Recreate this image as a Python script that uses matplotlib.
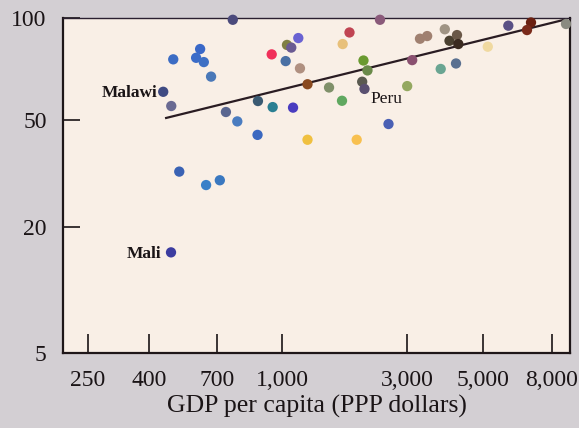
import numpy as np
import matplotlib
matplotlib.use('Agg')
from matplotlib import pyplot as plt

plt.rcParams['font.family'] = ['Liberation Serif', 'DejaVu Serif']

# GDP per capita (PPP dollars) and literacy (%)
gdp = [764, 488, 610, 590, 629, 668, 449, 480, 736, 783, 876, 874, 513,
       641, 712, 479, 944, 1030, 949, 1099, 1042, 1082, 1151, 1168, 2360,
       1805, 1700, 1248, 1508, 2041, 2114, 2018, 2059, 1690, 2997, 3101,
       2543, 1248, 1923, 3269, 3432, 3868, 3993, 4201, 4239, 3762, 4173,
       5176, 5953, 6948, 6761, 8819]
literacy = [99, 75.6, 81.1, 76.4, 74.2, 67.2, 60.6, 55.0, 52.8, 49.4, 56.9,
            44.0, 32.1, 28.6, 29.8, 15.1, 78.2, 74.7, 54.6, 54.4, 83.4, 81.9,
            87.4, 71.1, 99, 90.8, 83.9, 63.8, 62.4, 75.0, 70.1, 64.9, 61.8,
            57.0, 63.0, 75.2, 48.3, 42.2, 42.2, 87.0, 88.6, 92.8, 85.8, 89.2,
            83.9, 70.8, 73.5, 82.4, 95.1, 97.2, 92.3, 96.2]
dot_colors = ['#4b4a7c', '#3c6cc4', '#3a68c8', '#3c6cc8', '#3f70c4', '#4a78b8',
              '#3f4a82', '#6a6a92', '#5a6690', '#4a7cc0', '#3a5a72', '#3b68c0',
              '#3a62b4', '#3a80c8', '#3a78c0', '#3c3ca0', '#f0305a', '#4a70a4',
              '#2a7f92', '#4a3cc0', '#7f7f42', '#6a5a92', '#6a62d2', '#b09080',
              '#8a5a7a', '#c04452', '#e8c07a', '#8a4a20', '#80906a', '#6a9a30',
              '#6a8a4a', '#5a5a50', '#5a5070', '#60a860', '#94a860', '#8a5070',
              '#4a60b4', '#f0c040', '#f8c050', '#a08070', '#a08070', '#a09484',
              '#4a4030', '#6a5848', '#3a2a20', '#6aa592', '#5a7090', '#f0d9a0',
              '#5a5084', '#6a2010', '#7a2a1a', '#8a8a80']
named = {'Malawi': 6, 'Mali': 15, 'Peru': 32}

# trend line end points
trend_gdp = [460, 8819]
trend_lit = [50.7, 99.3]

x_ticks = [250, 400, 700, 1000, 3000, 5000, 8000]
y_ticks = [5, 20, 50, 100]

# the printed axes are not a clean log scale, so tie the scale to where
# the ticks really sit (pixels in the 579x428 figure)
x_tick_px = [87.7, 149.3, 216.7, 282.3, 407.3, 482.7, 551.7]
y_tick_px = [0, 126.6, 233.3, 335.0]   # height above the bottom spine


def interp_ext(x, xp, fp):
    x = np.asarray(x, dtype=float)
    y = np.interp(x, xp, fp)
    lo_slope = (fp[1] - fp[0]) / (xp[1] - xp[0])
    hi_slope = (fp[-1] - fp[-2]) / (xp[-1] - xp[-2])
    y = np.where(x < xp[0], fp[0] + (x - xp[0]) * lo_slope, y)
    y = np.where(x > xp[-1], fp[-1] + (x - xp[-1]) * hi_slope, y)
    return y


def make_scale(ticks, px):
    lt = np.log10(ticks)

    def forward(v):
        return interp_ext(np.log10(np.clip(v, 1e-9, None)), lt, px)

    def inverse(p):
        return 10 ** interp_ext(p, px, lt)
    return forward, inverse


x_fwd, x_inv = make_scale(x_ticks, x_tick_px)
y_fwd, y_inv = make_scale(y_ticks, y_tick_px)

fig = plt.figure(figsize=(5.79, 4.28), dpi=100, facecolor='#d3cfd3')
ax = fig.add_axes([63.3 / 579, 1 - 353.3 / 428, (570 - 63.3) / 579, 335 / 428])
ax.set_facecolor('#f9efe6')

ax.set_xscale('function', functions=(x_fwd, x_inv))
ax.set_yscale('function', functions=(y_fwd, y_inv))
ax.set_xlim(x_inv(63.3), x_inv(570))
ax.set_ylim(5, 100)

ax.plot(trend_gdp, trend_lit, color='#2a1c22', linewidth=1.6, zorder=2)
ax.scatter(gdp, literacy, s=55, c=dot_colors, linewidths=0, zorder=3,
           clip_on=False)

for name, i in named.items():
    if name == 'Peru':
        ax.annotate(name, (gdp[i], literacy[i]), xytext=(4.5, -7.5),
                    textcoords='offset points', ha='left', va='center',
                    fontsize=12.5, color='#1a1416')
    else:
        off = -4 if name == 'Malawi' else -7
        ax.annotate(name, (gdp[i], literacy[i]), xytext=(off, -1),
                    textcoords='offset points', ha='right', va='center',
                    fontsize=12.5, fontweight='bold', color='#1a1416')

ax.set_xticks(x_ticks, labels=[f'{v:,}' for v in x_ticks])
ax.set_yticks(y_ticks, labels=[str(v) for v in y_ticks])
ax.minorticks_off()
ax.tick_params(axis='x', direction='in', length=14, width=1.2, pad=12,
               labelsize=17, colors='#1a1416')
ax.tick_params(axis='y', direction='in', length=12, width=1.2, pad=12,
               labelsize=17, colors='#1a1416')

for side in ['left', 'bottom', 'right']:
    ax.spines[side].set_linewidth(1.6)
    ax.spines[side].set_color('#1e1618')
ax.spines['top'].set_linewidth(1.0)
ax.spines['top'].set_color('#2a2030')

ax.set_xlabel('GDP per capita (PPP dollars)', fontsize=18.5, labelpad=3,
              color='#1a1416')

fig.savefig('out.png', dpi=100, facecolor=fig.get_facecolor())
